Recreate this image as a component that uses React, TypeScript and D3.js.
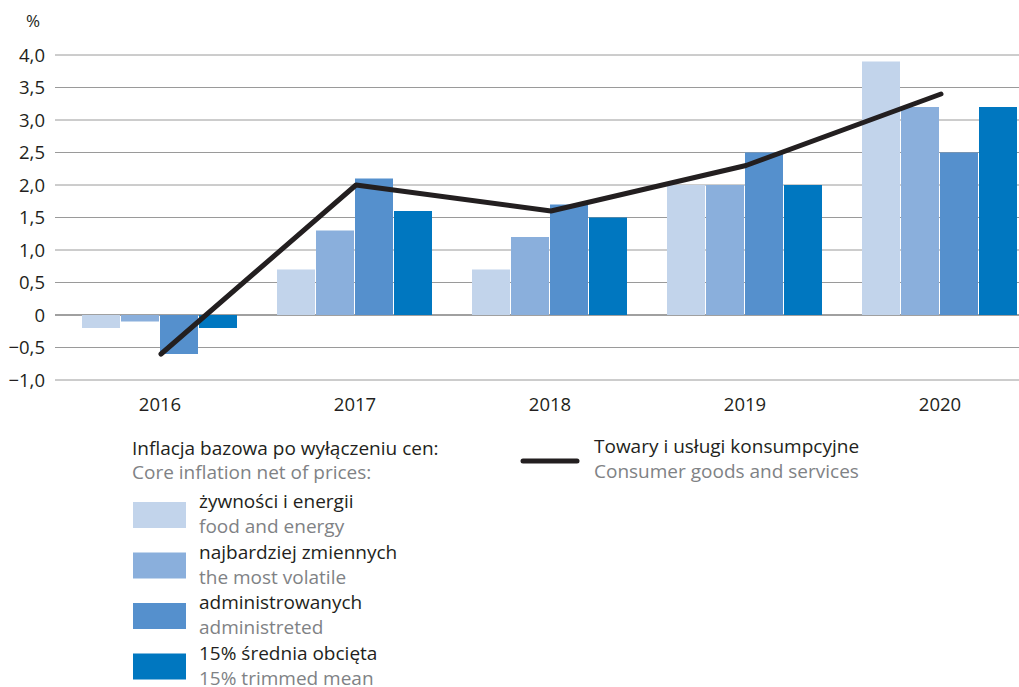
import React from "react";
import * as d3 from "d3";

const years = ["2016", "2017", "2018", "2019", "2020"];
const seriesKeys = ["food", "volatile", "administered", "trimmed"];
const foodEnergy = [-0.2, 0.7, 0.7, 2.0, 3.9];
const mostVolatile = [-0.1, 1.3, 1.2, 2.0, 3.2];
const administered = [-0.6, 2.1, 1.7, 2.5, 2.5];
const trimmedMean = [-0.2, 1.6, 1.5, 2.0, 3.2];
const cpi = [-0.6, 2.0, 1.6, 2.3, 3.4];
const yTicks = [-1.0, -0.5, 0, 0.5, 1.0, 1.5, 2.0, 2.5, 3.0, 3.5, 4.0];
const seriesColors = ["#c2d4eb", "#8aafdc", "#5590cd", "#0077c0"];
const legendPl = ["żywności i energii", "najbardziej zmiennych", "administrowanych", "15% średnia obcięta"];
const legendEn = ["food and energy", "the most volatile", "administreted", "15% trimmed mean"];

const W = 1019;
const H = 687;
const FONT = "'Open Sans', 'Noto Sans', sans-serif";

export default function App() {
  const values = [foodEnergy, mostVolatile, administered, trimmedMean];
  const y = d3.scaleLinear().domain([-1, 4]).range([380, 55]);
  const x = d3.scaleBand().domain(years).range([62.5, 1037.5]).paddingInner(0).paddingOuter(0);
  const inner = d3.scaleBand().domain(seriesKeys).range([19.5, 175.5]).paddingInner(0);
  const line = d3
    .line<number>()
    .x((_, i) => (x(years[i]) as number) + x.bandwidth() / 2 + 1)
    .y((d) => y(d));

  return (
    <svg width={W} height={H} style={{ position: "absolute", left: 0, top: 0 }}>
      <rect width={W} height={H} fill="#fff" />
      {yTicks.map((t) => (
        <g key={t}>
          <line x1={55} x2={W} y1={y(t)} y2={y(t)} stroke={t === 0 ? "#808080" : "#9a9a9a"} strokeWidth={t === 0 ? 1.3 : 1} />
          <text x={45} y={y(t) + 6.5} textAnchor="end" fontFamily={FONT} fontSize={18.5} fill="#231f20">
            {t === 0 ? "0" : d3.format(".1f")(t).replace(".", ",")}
          </text>
        </g>
      ))}
      <text x={33} y={27} textAnchor="middle" fontFamily={FONT} fontSize={17} fill="#231f20">%</text>
      {years.map((yr, i) => (
        <g key={yr}>
          {seriesKeys.map((k, j) => {
            const v = values[j][i];
            const x0 = (x(yr) as number) + (inner(k) as number);
            return (
              <rect
                key={k}
                x={x0}
                width={inner.bandwidth() - 1}
                y={Math.min(y(v), y(0))}
                height={Math.abs(y(v) - y(0))}
                fill={seriesColors[j]}
              />
            );
          })}
          <text x={(x(yr) as number) + x.bandwidth() / 2} y={411} textAnchor="middle" fontFamily={FONT} fontSize={18.5} fill="#231f20">
            {yr}
          </text>
        </g>
      ))}
      <path d={line(cpi) as string} fill="none" stroke="#231f20" strokeWidth={5} strokeLinecap="round" strokeLinejoin="round" />

      <text x={132} y={455} fontFamily={FONT} fontSize={19} fill="#231f20">Inflacja bazowa po wyłączeniu cen:</text>
      <text x={132} y={479} fontFamily={FONT} fontSize={19} fill="#808285">Core inflation net of prices:</text>
      {legendPl.map((t, i) => (
        <g key={t}>
          <rect x={133} y={502 + i * 50.5} width={53} height={26} fill={seriesColors[i]} />
          <text x={199} y={508 + i * 50.5} fontFamily={FONT} fontSize={19} fill="#231f20">{t}</text>
          <text x={199} y={533 + i * 50.5} fontFamily={FONT} fontSize={19} fill="#808285">{legendEn[i]}</text>
        </g>
      ))}
      <line x1={523} x2={577} y1={461} y2={461} stroke="#231f20" strokeWidth={5} strokeLinecap="round" />
      <text x={594} y={453} fontFamily={FONT} fontSize={19} fill="#231f20">Towary i usługi konsumpcyjne</text>
      <text x={594} y={478} fontFamily={FONT} fontSize={19} fill="#808285">Consumer goods and services</text>
    </svg>
  );
}
